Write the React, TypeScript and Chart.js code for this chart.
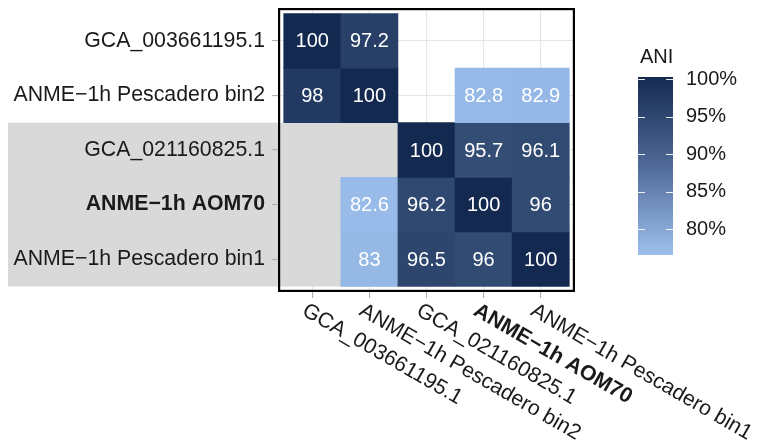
import React, { useEffect, useRef } from "react";
import { Chart, registerables } from "chart.js";

Chart.register(...registerables);

const FONT = "'Liberation Sans', Arial, Helvetica, sans-serif";

// Genomes (same order on both axes)
const genomes = [
  "GCA_003661195.1",
  "ANME−1h Pescadero bin2",
  "GCA_021160825.1",
  "ANME−1h AOM70",
  "ANME−1h Pescadero bin1",
];
const boldGenome = "ANME−1h AOM70";

// ANI values per row (top to bottom), columns left to right
const aniGCA003661195 = [100, 97.2, null, null, null];
const aniPescaderoBin2 = [98, 100, null, 82.8, 82.9];
const aniGCA021160825 = [null, null, 100, 95.7, 96.1];
const aniAOM70 = [null, 82.6, 96.2, 100, 96];
const aniPescaderoBin1 = [null, 83, 96.5, 96, 100];
const aniRows = [aniGCA003661195, aniPescaderoBin2, aniGCA021160825, aniAOM70, aniPescaderoBin1];

// Colour bar
const legendTitle = "ANI";
const legendTicks = [80, 85, 90, 95, 100];

const LIGHT = [152, 187, 233];
const DARK = [19, 41, 79];
const LOW = 82.6;
const HIGH = 100;

function cellColor(v: number): string {
  let t = (v - LOW) / (HIGH - LOW);
  t = Math.max(0, Math.min(1, t));
  const c = LIGHT.map((l, i) => Math.round(l + (DARK[i] - l) * t));
  return `rgb(${c[0]},${c[1]},${c[2]})`;
}

const heatPlugin = {
  id: "heatExtras",
  beforeDraw(chart: any) {
    const { ctx, chartArea, scales } = chart;
    const y0 = scales.y.getPixelForValue(2.5);
    const y1 = scales.y.getPixelForValue(5.5);
    ctx.save();
    ctx.fillStyle = "#D9D9D9";
    ctx.fillRect(8, y0, chartArea.left - 8, y1 - y0);
    ctx.restore();
  },
  beforeDatasetsDraw(chart: any) {
    const { ctx, chartArea, scales } = chart;
    const y0 = scales.y.getPixelForValue(2.5);
    const y1 = scales.y.getPixelForValue(5.5);
    const x1 = scales.x.getPixelForValue(2.5);
    ctx.save();
    ctx.fillStyle = "#D9D9D9";
    ctx.fillRect(chartArea.left, y0, x1 - chartArea.left, y1 - y0);
    ctx.restore();
  },
  afterDatasetsDraw(chart: any) {
    const { ctx } = chart;
    ctx.save();
    ctx.fillStyle = "#FFFFFF";
    ctx.font = `20px ${FONT}`;
    ctx.textAlign = "center";
    ctx.textBaseline = "middle";
    chart.data.datasets.forEach((ds: any, di: number) => {
      const meta = chart.getDatasetMeta(di);
      meta.data.forEach((el: any, i: number) => {
        const raw = ds.ani[i];
        if (raw == null) return;
        const p = el.getCenterPoint();
        ctx.fillText(String(raw), p.x, p.y + 1);
      });
    });
    ctx.restore();
  },
  afterDraw(chart: any) {
    const { ctx, chartArea, scales } = chart;
    ctx.save();
    // panel border
    ctx.strokeStyle = "#000000";
    ctx.lineWidth = 2.2;
    ctx.strokeRect(chartArea.left + 1.1, chartArea.top + 1.1, chartArea.right - chartArea.left - 2.2, chartArea.bottom - chartArea.top - 2.2);

    // rotated x labels
    ctx.fillStyle = "#1A1A1A";
    ctx.textAlign = "left";
    ctx.textBaseline = "top";
    genomes.forEach((g, i) => {
      const cx = scales.x.getPixelForValue(i + 1);
      ctx.save();
      ctx.translate(cx - 3, chartArea.bottom + 8);
      ctx.rotate(Math.PI / 6);
      ctx.font = `${g === boldGenome ? "bold " : ""}21.3px ${FONT}`;
      ctx.fillText(g, 0, 0);
      ctx.restore();
    });

    // colour bar legend
    const bx = 638, bw = 35, bTop = 77, bBottom = 255;
    const lo = 76.6, hi = 100.3;
    const yFor = (v: number) => bBottom - ((v - lo) / (hi - lo)) * (bBottom - bTop);
    const grad = ctx.createLinearGradient(0, bBottom, 0, bTop);
    grad.addColorStop(0, "rgb(157,192,237)");
    grad.addColorStop(0.5, "rgb(80,106,152)");
    grad.addColorStop(1, "rgb(20,42,80)");
    ctx.fillStyle = grad;
    ctx.fillRect(bx, bTop, bw, bBottom - bTop);
    ctx.strokeStyle = "rgba(255,255,255,0.9)";
    ctx.lineWidth = 1;
    legendTicks.forEach((t) => {
      const y = Math.round(yFor(t)) + 0.5;
      ctx.beginPath();
      ctx.moveTo(bx, y);
      ctx.lineTo(bx + 7, y);
      ctx.moveTo(bx + bw - 7, y);
      ctx.lineTo(bx + bw, y);
      ctx.stroke();
    });
    ctx.fillStyle = "#1A1A1A";
    ctx.font = `20px ${FONT}`;
    ctx.textAlign = "left";
    ctx.textBaseline = "middle";
    legendTicks.forEach((t) => {
      ctx.fillText(`${t}%`, 686, yFor(t));
    });
    ctx.textBaseline = "alphabetic";
    ctx.fillText(legendTitle, 640, 63);
    ctx.restore();
  },
};

export default function App() {
  const ref = useRef<HTMLCanvasElement | null>(null);

  useEffect(() => {
    document.body.style.margin = "0";
    const canvas = ref.current;
    if (!canvas) return;

    const datasets = aniRows.map((row, r) => ({
      label: genomes[r],
      ani: row.filter((v) => v != null),
      data: row
        .map((v, c) => (v == null ? null : { x: c + 1, y: [r + 0.5, r + 1.5] }))
        .filter((d) => d !== null),
      backgroundColor: row.filter((v) => v != null).map((v) => cellColor(v as number)),
      borderWidth: 0,
      grouped: false,
      barPercentage: 1,
      categoryPercentage: 1,
    }));

    const gridCfg = {
      color: "#E6E6E6",
      lineWidth: 1.1,
      drawTicks: true,
      tickLength: 6,
      tickColor: "#B0B0B0",
      tickWidth: 1.1,
      offset: false,
    };

    const chart = new Chart(canvas, {
      type: "bar",
      data: { datasets: datasets as any },
      options: {
        animation: false,
        responsive: false,
        devicePixelRatio: 1,
        layout: { padding: { top: 8, right: 182, bottom: 0, left: 0 } },
        plugins: { legend: { display: false }, tooltip: { enabled: false }, title: { display: false } },
        scales: {
          x: {
            type: "linear",
            offset: false,
            min: 0.4,
            max: 5.6,
            afterBuildTicks: (s: any) => {
              s.ticks = genomes.map((_, i) => ({ value: i + 1 }));
            },
            afterFit: (s: any) => {
              s.height = 149;
              s.paddingLeft = 0;
              s.paddingRight = 0;
              s.paddingTop = 0;
              s.paddingBottom = 0;
            },
            grid: gridCfg,
            border: { display: false },
            ticks: { display: false, autoSkip: false },
          },
          y: {
            type: "linear",
            offset: false,
            min: 0.4,
            max: 5.6,
            reverse: true,
            afterBuildTicks: (s: any) => {
              s.ticks = genomes.map((_, i) => ({ value: i + 1 }));
            },
            afterFit: (s: any) => {
              s.width = 278;
              s.paddingTop = 0;
              s.paddingBottom = 0;
              s.paddingLeft = 0;
              s.paddingRight = 0;
            },
            grid: gridCfg,
            border: { display: false },
            ticks: {
              autoSkip: false,
              padding: 7,
              color: "#1A1A1A",
              font: (ctx: any) => ({
                family: FONT,
                size: 21.3,
                weight: ctx.tick && genomes[Math.round(ctx.tick.value) - 1] === boldGenome ? "bold" : "normal",
              }),
              callback: (v: any) => genomes[Math.round(Number(v)) - 1] ?? "",
            },
          },
        },
      } as any,
      plugins: [heatPlugin],
    });

    return () => chart.destroy();
  }, []);

  return (
    <div style={{ position: "absolute", left: 0, top: 0, width: 757, height: 441, background: "#fff" }}>
      <canvas ref={ref} width={757} height={441} />
    </div>
  );
}
